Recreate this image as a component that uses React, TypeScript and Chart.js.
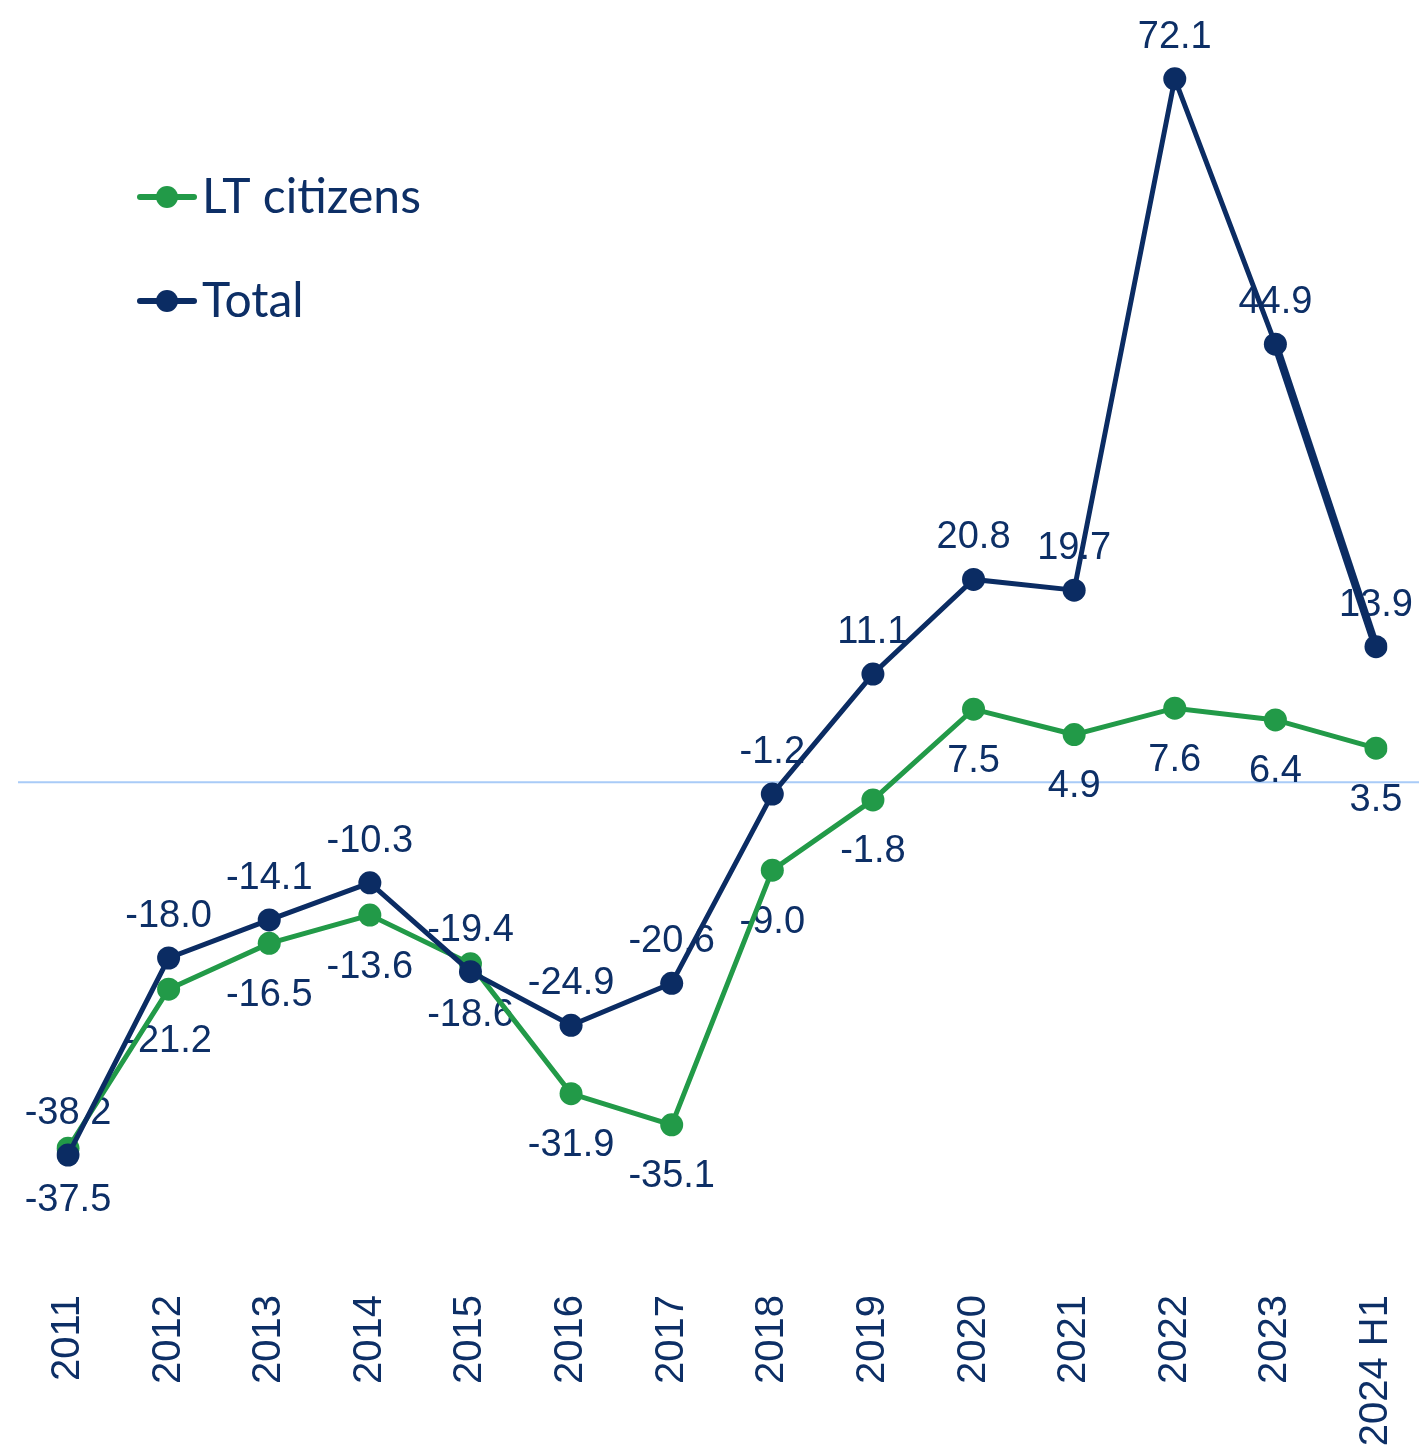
import React, { useEffect, useRef } from 'react';
import { Chart, registerables } from 'chart.js';

Chart.register(...registerables);

const categories = ['2011', '2012', '2013', '2014', '2015', '2016', '2017', '2018', '2019', '2020', '2021', '2022', '2023', '2024 H1'];
const ltCitizens = [-37.5, -21.2, -16.5, -13.6, -18.6, -31.9, -35.1, -9.0, -1.8, 7.5, 4.9, 7.6, 6.4, 3.5];
const total = [-38.2, -18.0, -14.1, -10.3, -19.4, -24.9, -20.6, -1.2, 11.1, 20.8, 19.7, 72.1, 44.9, 13.9];
const seriesNames = ['LT citizens', 'Total'];

const GREEN = '#229A48';
const NAVY = '#0B2C63';
const TEXT = '#0D2F66';
const ZERO = '#A9CBF7';

const zeroLinePlugin = {
  id: 'zeroLine',
  beforeDatasetsDraw(chart: any) {
    const y = chart.scales.y.getPixelForValue(0);
    const ctx = chart.ctx;
    ctx.save();
    ctx.strokeStyle = ZERO;
    ctx.lineWidth = 2;
    ctx.beginPath();
    ctx.moveTo(18, y);
    ctx.lineTo(chart.width, y);
    ctx.stroke();
    ctx.restore();
  },
};

const dataLabelPlugin = {
  id: 'dataLabels',
  beforeDatasetsDraw(chart: any) {
    const ctx = chart.ctx;
    ctx.save();
    ctx.font = '38px "Liberation Sans", Arial, sans-serif';
    ctx.fillStyle = TEXT;
    ctx.textAlign = 'center';
    chart.data.datasets.forEach((ds: any, i: number) => {
      const meta = chart.getDatasetMeta(i);
      const above = ds.label === 'Total';
      meta.data.forEach((pt: any, j: number) => {
        const v = ds.data[j] as number;
        const txt = v.toFixed(1);
        if (above) {
          ctx.textBaseline = 'alphabetic';
          ctx.fillText(txt, pt.x, pt.y - 31);
        } else {
          ctx.textBaseline = 'top';
          ctx.fillText(txt, pt.x, pt.y + 33);
        }
      });
    });
    ctx.restore();
  },
};

const legendPlugin = {
  id: 'customLegend',
  afterDraw(chart: any) {
    const ctx = chart.ctx;
    const items = [
      { name: seriesNames[0], color: GREEN, y: 197 },
      { name: seriesNames[1], color: NAVY, y: 301 },
    ];
    ctx.save();
    items.forEach((it) => {
      ctx.strokeStyle = it.color;
      ctx.lineWidth = 6;
      ctx.lineCap = 'round';
      ctx.beginPath();
      ctx.moveTo(140, it.y);
      ctx.lineTo(194, it.y);
      ctx.stroke();
      ctx.fillStyle = it.color;
      ctx.beginPath();
      ctx.arc(167, it.y, 11, 0, Math.PI * 2);
      ctx.fill();
      ctx.fillStyle = TEXT;
      ctx.font = '48px Lato, "Open Sans", sans-serif';
      ctx.textAlign = 'left';
      ctx.textBaseline = 'alphabetic';
      ctx.fillText(it.name, 202, it.y + 16);
    });
    ctx.restore();
  },
};

export default function App() {
  const canvasRef = useRef<HTMLCanvasElement | null>(null);

  useEffect(() => {
    if (!canvasRef.current) return;
    const lastIndex = categories.length - 1;
    const chart = new Chart(canvasRef.current, {
      type: 'line',
      data: {
        labels: categories,
        datasets: [
          {
            label: seriesNames[1],
            data: total,
            borderColor: NAVY,
            backgroundColor: NAVY,
            borderWidth: 5,
            pointRadius: 11.5,
            pointHoverRadius: 11.5,
            pointBackgroundColor: NAVY,
            pointBorderWidth: 0,
            tension: 0,
            segment: {
              borderWidth: (ctx: any) => (ctx.p1DataIndex === lastIndex ? 8 : 5),
            },
          },
          {
            label: seriesNames[0],
            data: ltCitizens,
            borderColor: GREEN,
            backgroundColor: GREEN,
            borderWidth: 5,
            pointRadius: 11.5,
            pointHoverRadius: 11.5,
            pointBackgroundColor: GREEN,
            pointBorderWidth: 0,
            tension: 0,
          },
        ],
      },
      options: {
        animation: false,
        responsive: true,
        maintainAspectRatio: false,
        layout: { padding: { left: 68, right: 27, top: 0, bottom: 0 } },
        plugins: {
          legend: { display: false },
          tooltip: { enabled: false },
        },
        scales: {
          x: {
            offset: false,
            grid: { display: false },
            border: { display: false },
            ticks: {
              autoSkip: false,
              maxRotation: 90,
              minRotation: 90,
              padding: -5,
              color: TEXT,
              font: { family: '"Liberation Sans", Arial, sans-serif', size: 40 },
            },
            afterFit: (s: any) => {
              s.height = 155;
            },
          },
          y: {
            display: false,
            min: -52.23,
            max: 79.0,
          },
        },
      },
      plugins: [zeroLinePlugin, dataLabelPlugin, legendPlugin],
    });
    return () => chart.destroy();
  }, []);

  return (
    <div style={{ position: 'absolute', left: 0, top: 0, width: 1419, height: 1447, background: '#fff' }}>
      <canvas ref={canvasRef} />
    </div>
  );
}
